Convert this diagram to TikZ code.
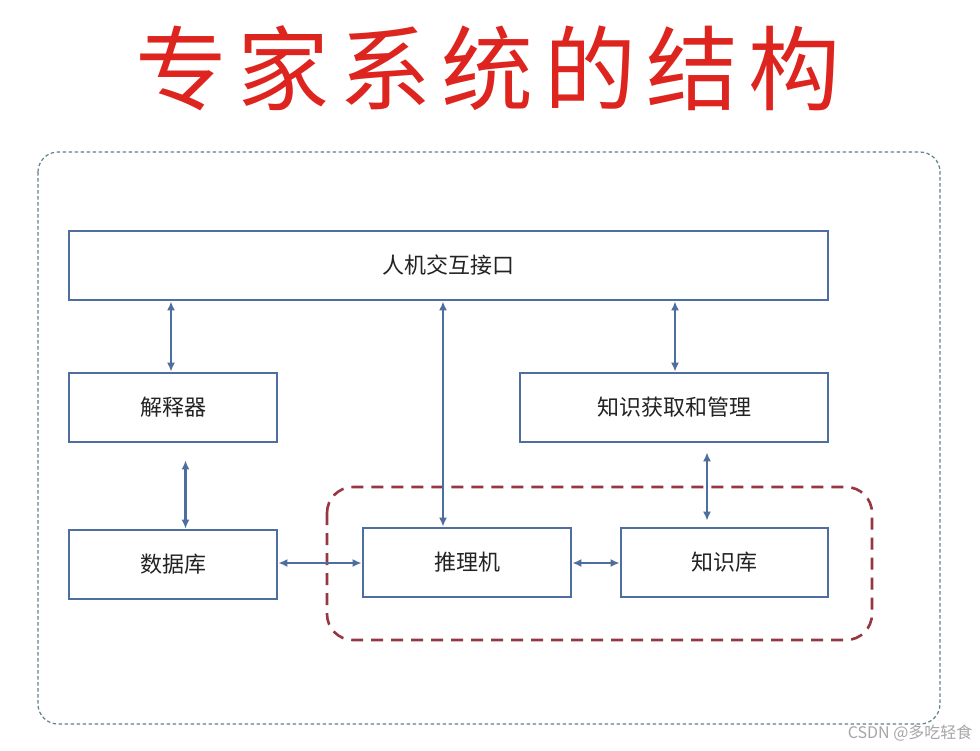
\documentclass[tikz,border=0pt]{standalone}
\usepackage{fontspec}
\setmainfont{Noto Sans CJK SC}
\newfontfamily\cjktitle[LetterSpace=11]{Noto Sans CJK SC}
\usetikzlibrary{arrows.meta}
\definecolor{boxblue}{RGB}{79,110,160}
\definecolor{titlered}{RGB}{222,36,30}
\definecolor{outerline}{RGB}{95,130,140}
\definecolor{innerred}{RGB}{150,55,65}
\definecolor{txt}{RGB}{35,35,35}
\tikzset{
  blk/.style={draw=boxblue, line width=2.8pt, fill=white, text=txt,
    font=\fontsize{22}{26}\selectfont, inner sep=0pt},
  arr/.style={draw=boxblue, line width=2.6pt,
    {Latex[length=9pt,width=8pt]}-{Latex[length=9pt,width=8pt]}},
}
\begin{document}
\begin{tikzpicture}[x=1pt,y=-1pt]
\useasboundingbox (0,0) rectangle (980,750);
\fill[white] (0,0) rectangle (980,750);
% title
\node[text=titlered, font=\fontsize{92}{100}\selectfont\cjktitle] (title) at (488,68) {专家系统的结构};
% frames
\draw[outerline, line width=1.2pt, dash pattern=on 3.5pt off 2.5pt, rounded corners=20pt] (38,152) rectangle (940,724);
\draw[innerred, line width=2.6pt, dash pattern=on 12pt off 8pt, rounded corners=26pt] (327,487) rectangle (872,640);
% blocks
\node[blk, minimum width=759pt, minimum height=69pt] (hj) at (448.5,265.5) {人机交互接口};
\node[blk, minimum width=208pt, minimum height=69pt] (jsq) at (173,407.5) {解释器};
\node[blk, minimum width=308pt, minimum height=69pt] (zsgl) at (674,407.5) {知识获取和管理};
\node[blk, minimum width=208pt, minimum height=69pt] (sjk) at (173,564.5) {数据库};
\node[blk, minimum width=208pt, minimum height=69pt] (tlj) at (467,562.5) {推理机};
\node[blk, minimum width=207pt, minimum height=69pt] (zsk) at (724.5,562.5) {知识库};
% connector positions
\coordinate (c1) at (171,0);
\coordinate (c2) at (443,0);
\coordinate (c3) at (675,0);
\coordinate (c4) at (185.5,0);
\coordinate (c5) at (707,0);
\coordinate (c6) at (0,563);
% connectors
\draw[arr] (hj.south -| c1) -- (jsq.north -| c1);
\draw[arr] (hj.south -| c2) -- (tlj.north -| c2);
\draw[arr] (hj.south -| c3) -- (zsgl.north -| c3);
\draw[arr, shorten <=17pt] (jsq.south -| c4) -- (sjk.north -| c4);
\draw[arr, shorten <=9pt, shorten >=6pt] (zsgl.south -| c5) -- (zsk.north -| c5);
\draw[arr] (sjk.east |- c6) -- (tlj.west |- c6);
\draw[arr] (tlj.east |- c6) -- (zsk.west |- c6);
% watermark
\node[text=black!35, font=\fontsize{16}{18}\selectfont, anchor=east] (wm) at (976,733) {CSDN @多吃轻食};
\end{tikzpicture}
\end{document}
